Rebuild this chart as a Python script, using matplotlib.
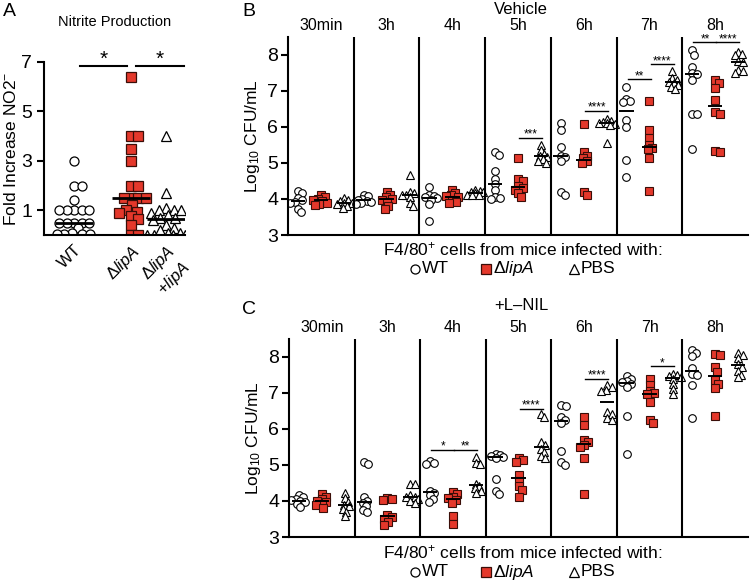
import matplotlib as mpl
mpl.use('Agg')
import matplotlib.pyplot as plt
from matplotlib.lines import Line2D
import numpy as np

plt.rcParams['font.family'] = ['Liberation Sans', 'DejaVu Sans']
plt.rcParams['mathtext.fontset'] = 'custom'
plt.rcParams['mathtext.rm'] = 'Liberation Sans'
plt.rcParams['mathtext.it'] = 'Liberation Sans:italic'
plt.rcParams['mathtext.default'] = 'regular'

RED = '#e4382b'
RED_EDGE = '#3a0e08'

# ---- panel A: fold increase of nitrite
a_labels = ['WT', r'Δ$\it{lipA}$', 'Δ$\\it{lipA}$\n+$\\it{lipA}$']
a_wt = [3.0, 2.0, 2.0, 1.4, 1.0, 1.0, 1.0, 1.0, 1.0, 0.5, 0.5, 0.5, 0.5, 0.5,
        0.3, 0.1, 0.05, 0.05, 0.05, 0.05]
a_lipa = [6.4, 4.0, 4.0, 3.5, 3.0, 2.0, 2.0, 1.5, 1.5, 1.5, 1.5, 1.2, 1.0, 0.95,
          0.9, 0.75, 0.65, 0.4, 0.0, 0.0]
a_comp = [4.0, 1.7, 1.1, 1.0, 1.0, 1.0, 0.9, 0.8, 0.7, 0.7, 0.6, 0.4, 0.3, 0.2,
          0.1, 0.1, 0.0, 0.0, 0.0, 0.0]

# ---- panels B/C: log10 CFU/mL per time point
times = ['30min', '3h', '4h', '5h', '6h', '7h', '8h']

veh_wt = [
    [4.22, 4.15, 4.02, 3.98, 3.92, 3.90, 3.72, 3.64],
    [4.12, 4.08, 4.0, 3.98, 3.95, 3.92, 3.88, 3.85],
    [4.32, 4.1, 4.08, 4.05, 4.02, 3.98, 3.85, 3.38],
    [5.3, 5.22, 4.76, 4.55, 4.42, 4.25, 4.05, 4.02, 4.0],
    [6.1, 5.92, 5.45, 5.2, 5.15, 5.05, 4.18, 4.12],
    [7.1, 6.78, 6.72, 6.68, 6.18, 6.0, 5.08, 4.62],
    [8.12, 8.0, 7.66, 7.5, 7.45, 7.3, 6.35, 6.35, 5.38],
]
veh_lipa = [
    [4.1, 4.05, 4.0, 3.98, 3.95, 3.9, 3.85, 3.82],
    [4.2, 4.12, 4.05, 4.0, 3.98, 3.92, 3.8, 3.72],
    [4.25, 4.15, 4.1, 4.08, 4.05, 3.98, 3.92, 3.88],
    [5.14, 4.55, 4.5, 4.35, 4.3, 4.25, 4.15, 4.05],
    [6.08, 5.3, 5.2, 5.12, 5.05, 5.0, 4.18, 4.1],
    [6.72, 5.9, 5.7, 5.5, 5.4, 5.38, 5.12, 4.22],
    [7.28, 7.2, 7.07, 6.75, 6.4, 6.35, 5.33, 5.3],
]
veh_pbs = [
    [4.02, 3.98, 3.95, 3.9, 3.88, 3.85, 3.8, 3.75],
    [4.65, 4.2, 4.15, 4.12, 4.1, 4.05, 3.9, 3.8],
    [4.25, 4.22, 4.2, 4.18, 4.15, 4.12, 4.12, 4.1],
    [5.5, 5.35, 5.25, 5.2, 5.15, 5.1, 5.05, 5.0],
    [6.2, 6.15, 6.12, 6.1, 6.1, 6.08, 6.05, 5.55],
    [7.55, 7.35, 7.3, 7.25, 7.2, 7.15, 7.1, 7.05],
    [8.08, 8.02, 7.98, 7.82, 7.78, 7.58, 7.55, 7.5],
]
# (time index, group from, group to, stars, height)
veh_sig = [(3, 1, 2, '***', 5.7), (4, 1, 2, '****', 6.44),
           (5, 0, 1, '**', 7.31), (5, 1, 2, '****', 7.73),
           (6, 0, 1, '**', 8.34), (6, 1, 2, '****', 8.34)]

nil_wt = [
    [4.15, 4.1, 4.05, 4.02, 4.0, 3.98, 3.92, 3.82],
    [5.08, 5.02, 4.1, 4.0, 3.95, 3.85, 3.75, 3.7],
    [5.1, 5.05, 5.02, 4.28, 4.22, 4.15, 4.05, 3.98],
    [5.3, 5.28, 5.25, 5.22, 5.2, 4.6, 4.28, 4.18],
    [6.65, 6.62, 6.32, 6.25, 6.15, 5.38, 5.08, 5.0],
    [7.45, 7.38, 7.32, 7.3, 7.25, 7.15, 6.35, 5.3],
    [8.18, 8.1, 8.02, 7.68, 7.52, 7.48, 7.2, 6.3],
]
nil_lipa = [
    [4.18, 4.12, 4.05, 4.0, 3.98, 3.92, 3.88, 3.8],
    [4.08, 4.05, 4.03, 3.6, 3.55, 3.5, 3.42, 3.33],
    [4.25, 4.18, 4.12, 4.08, 4.02, 3.95, 3.58, 3.35],
    [5.18, 5.12, 5.08, 4.72, 4.55, 4.4, 4.3, 4.1],
    [6.32, 6.1, 5.68, 5.62, 5.55, 5.5, 5.2, 4.2],
    [7.38, 7.22, 7.05, 6.98, 6.95, 6.75, 6.25, 6.15],
    [8.08, 8.05, 7.7, 7.58, 7.35, 7.25, 7.12, 6.35],
]
nil_pbs = [
    [4.22, 4.08, 3.98, 3.9, 3.85, 3.78, 3.7, 3.58],
    [4.48, 4.46, 4.15, 4.12, 4.1, 4.05, 4.0, 3.95],
    [5.22, 5.05, 5.02, 4.48, 4.4, 4.35, 4.28, 4.22],
    [6.42, 6.32, 5.62, 5.55, 5.45, 5.35, 5.25, 5.18],
    [7.2, 7.15, 7.08, 7.05, 6.45, 6.4, 6.3, 6.25],
    [7.52, 7.5, 7.45, 7.42, 7.38, 7.25, 7.1, 6.95],
    [8.1, 8.05, 7.95, 7.8, 7.72, 7.6, 7.5, 7.42],
]
nil_sig = [(2, 0, 1, '*', 5.42), (2, 1, 2, '**', 5.42),
           (3, 1, 2, '****', 6.55), (4, 1, 2, '****', 7.38),
           (5, 1, 2, '*', 7.73)]

styles = [dict(marker='o', mfc='white', mec='black'),
          dict(marker='s', mfc=RED, mec=RED_EDGE),
          dict(marker='^', mfc='white', mec='black')]


def swarm(vals, xpx, ypx, gap, maxw):
    # simple beeswarm limited to +-maxw pixels; x offsets returned in data units
    vals = np.asarray(vals, float)
    order = np.argsort(-vals)
    placed = []
    offs = np.zeros(len(vals))
    for i in order:
        y = vals[i] * ypx
        best, best_d = 0.0, -1
        for k in range(int(maxw * 4) + 1):
            cand = (k + 1) // 2 * 0.5 * (1 if k % 2 else -1)
            d = min([np.hypot(cand - px, y - py) for px, py in placed] + [1e9])
            if d >= gap:
                best = cand
                break
            if d > best_d + 0.5:
                best, best_d = cand, d
        placed.append((best, y))
        offs[i] = best / xpx
    return offs


W, H = 750, 583
fig = plt.figure(figsize=(7.5, 5.83), dpi=100)


def fx(px):
    return px / W


def fy(py):
    return 1 - py / H


# ---------------- panel A
axA = fig.add_axes([fx(44), fy(235), fx(141), 173 / H])
a_pos = [0, 1, 1.62]
for k, vals in enumerate([a_wt, a_lipa, a_comp]):
    offs = swarm(vals, 57, 24.5, 7.5, 19)
    axA.plot(a_pos[k] + offs, vals, ls='none', ms=6.5, mew=0.9, zorder=2, **styles[k])
    axA.hlines(np.median(vals), a_pos[k] - 0.34, a_pos[k] + 0.34, color='black', lw=2, zorder=3)
axA.set_xlim(-0.53, 1.95)
axA.set_ylim(0, 7)
axA.set_yticks([1, 3, 5, 7])
axA.set_xticks(a_pos)
axA.set_xticklabels(a_labels, rotation=45, ha='right', va='top', fontsize=12,
                    multialignment='center', rotation_mode='anchor')
axA.tick_params(axis='x', length=0, pad=5)
axA.tick_params(axis='y', labelsize=14, length=5, width=1.5, direction='out')
for s in ['top', 'right']:
    axA.spines[s].set_visible(False)
for s in ['left', 'bottom']:
    axA.spines[s].set_linewidth(1.5)
axA.set_ylabel('Fold Increase NO2$^{-}$', fontsize=12.5, labelpad=2)
for x1, x2 in [(0.1, 0.93), (1.09, 1.93)]:
    axA.plot([x1, x2], [6.85, 6.85], color='black', lw=1.5, clip_on=False)
    axA.text((x1 + x2) / 2, 7.1, '*', ha='center', va='center', fontsize=15)
fig.text(fx(115), fy(22), 'Nitrite Production', ha='center', va='center', fontsize=10.5)
fig.text(fx(9), fy(12), 'A', ha='center', va='center', fontsize=14)


# ---------------- panels B and C
def time_panel(rect, wt, lipa, pbs, sig, header, letter, top_px, legend_px):
    ax = fig.add_axes(rect)
    xpx = rect[2] * W / 7
    groups = [wt, lipa, pbs]
    c = [0.15, 0.5, 0.85]
    for i in range(7):
        for k in range(3):
            vals = groups[k][i]
            x0 = i + c[k]
            offs = swarm(vals, xpx, 36.1, 4.5, 8)
            ax.plot(x0 + offs, vals, ls='none', ms=5.5, mew=0.8, zorder=2, **styles[k])
            ax.hlines(np.median(vals), x0 - 0.11, x0 + 0.11, color='black', lw=1.4, zorder=3)
        ax.annotate(times[i], (i + 0.5, 1.0), xycoords=('data', 'axes fraction'),
                    xytext=(0, 3), textcoords='offset points',
                    ha='center', va='bottom', fontsize=11.5)
    for i in range(1, 7):
        ax.axvline(i, color='black', lw=1.5)
    for t, g1, g2, stars, y in sig:
        x1, x2 = t + c[g1] + 0.02, t + c[g2] + 0.02
        ax.plot([x1, x2], [y, y], color='black', lw=1, clip_on=False)
        ax.text((x1 + x2) / 2, y - 0.08, stars, ha='center', va='bottom', fontsize=8.5)
    ax.set_xlim(0, 7)
    ax.set_ylim(3, 3 + rect[3] * H / 36.1)
    ax.set_yticks([3, 4, 5, 6, 7, 8])
    ax.set_xticks([])
    ax.tick_params(axis='y', labelsize=14, length=5, width=1.5, direction='out', pad=2)
    for s in ['top', 'right']:
        ax.spines[s].set_visible(False)
    for s in ['left', 'bottom']:
        ax.spines[s].set_linewidth(1.5)
    ax.set_ylabel('Log$_{10}$ CFU/mL', fontsize=12.5, labelpad=4)

    fig.text(fx(249), fy(top_px + 12), letter, ha='center', va='center', fontsize=14)
    fig.text(fx(521), fy(top_px + 9), header, ha='center', va='center', fontsize=12)
    fig.text(fx(523), fy(legend_px - 20), 'F4/80$^{+}$ cells from mice infected with:',
             ha='center', va='center', fontsize=12.5)
    entries = [(415, 'WT'), (486, r'Δ$\it{lipA}$'), (574, 'PBS')]
    for k, (xp, lab) in enumerate(entries):
        fig.add_artist(Line2D([fx(xp)], [fy(legend_px)], transform=fig.transFigure,
                              ls='none', ms=6.5, mew=0.9, **styles[k]))
        fig.text(fx(xp + 7), fy(legend_px), lab, ha='left', va='center', fontsize=12.5)
    return ax


time_panel([fx(288), fy(235), fx(460), 198 / H], veh_wt, veh_lipa, veh_pbs,
           veh_sig, 'Vehicle', 'B', 0, 269)
time_panel([fx(289), fy(537), fx(459), 198 / H], nil_wt, nil_lipa, nil_pbs,
           nil_sig, '+L–NIL', 'C', 297, 572)

fig.savefig('out.png', dpi=100)
